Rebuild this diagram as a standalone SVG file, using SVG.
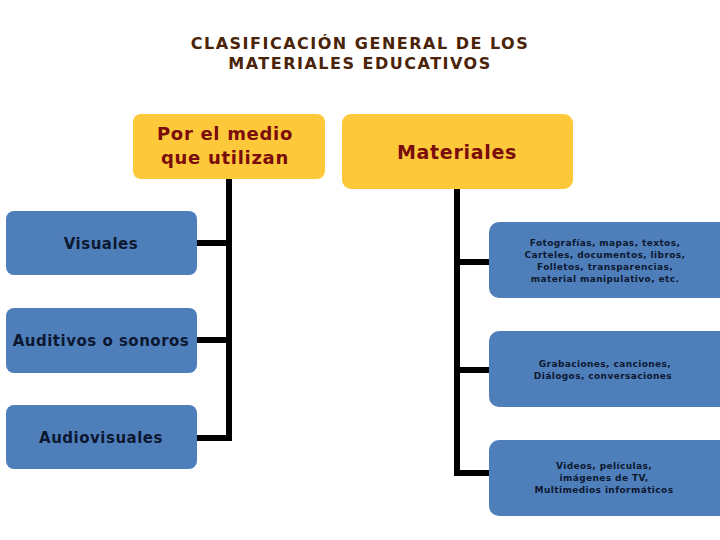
<svg xmlns="http://www.w3.org/2000/svg" width="720" height="540" viewBox="0 0 720 540">
<style>
.title{font-family:"DejaVu Sans","Liberation Sans",sans-serif;font-weight:bold;font-size:16px;fill:#4a2308;text-anchor:middle;letter-spacing:1.5px}
.yb{fill:#fdc93a}
.bb{fill:#4f7fbb}
.yt{font-family:"DejaVu Sans","Liberation Sans",sans-serif;font-weight:bold;fill:#7a0c0c;text-anchor:middle;letter-spacing:0.7px}
.lt{font-family:"DejaVu Sans","Liberation Sans",sans-serif;font-weight:bold;font-size:15px;fill:#0c1830;text-anchor:middle;letter-spacing:0.5px}
.rt{font-family:"DejaVu Sans","Liberation Sans",sans-serif;font-weight:bold;font-size:9px;fill:#0c1830;text-anchor:middle;letter-spacing:0.4px}
.ln{stroke:#000;stroke-width:6;fill:none}
</style>
<rect width="720" height="540" fill="#fff"/>
<g id="title">
<text class="title" x="360" y="49">CLASIFICACIÓN GENERAL DE LOS</text>
<text class="title" x="360" y="69">MATERIALES EDUCATIVOS</text>
</g>
<g id="connectors">
<path class="ln" d="M229 179 V441 M197 243 H232 M197 340 H232 M197 438 H232"/>
<path class="ln" d="M457 189 V476 M454 262 H489 M454 370 H489 M454 473 H489"/>
</g>
<g id="medio">
<rect class="yb" x="133" y="114" width="192" height="65" rx="8"/>
<text class="yt" x="225" y="140" font-size="18">Por el medio</text>
<text class="yt" x="225" y="164" font-size="18">que utilizan</text>
</g>
<g id="materiales">
<rect class="yb" x="342" y="114" width="231" height="75" rx="9"/>
<text class="yt" x="457" y="159" font-size="19">Materiales</text>
</g>
<g id="visuales">
<rect class="bb" x="6" y="211" width="191" height="64" rx="8"/>
<text class="lt" x="101" y="249">Visuales</text>
</g>
<g id="auditivos">
<rect class="bb" x="6" y="308" width="191" height="65" rx="8"/>
<text class="lt" x="101" y="346">Auditivos o sonoros</text>
</g>
<g id="audiovisuales">
<rect class="bb" x="6" y="405" width="191" height="64" rx="8"/>
<text class="lt" x="101" y="443">Audiovisuales</text>
</g>
<g id="visuales-mat">
<rect class="bb" x="489" y="222" width="240" height="76" rx="10"/>
<text class="rt" x="605" y="246">Fotografías, mapas, textos,</text>
<text class="rt" x="605" y="258">Carteles, documentos, libros,</text>
<text class="rt" x="605" y="270">Folletos, transparencias,</text>
<text class="rt" x="605" y="282">material manipulativo, etc.</text>
</g>
<g id="auditivos-mat">
<rect class="bb" x="489" y="331" width="240" height="76" rx="10"/>
<text class="rt" x="605" y="367">Grabaciones, canciones,</text>
<text class="rt" x="603" y="379">Diálogos, conversaciones</text>
</g>
<g id="audiovisuales-mat">
<rect class="bb" x="489" y="440" width="240" height="76" rx="10"/>
<text class="rt" x="604" y="469">Videos, películas,</text>
<text class="rt" x="604" y="481">imágenes de TV,</text>
<text class="rt" x="604" y="493">Multimedios informáticos</text>
</g>
</svg>
